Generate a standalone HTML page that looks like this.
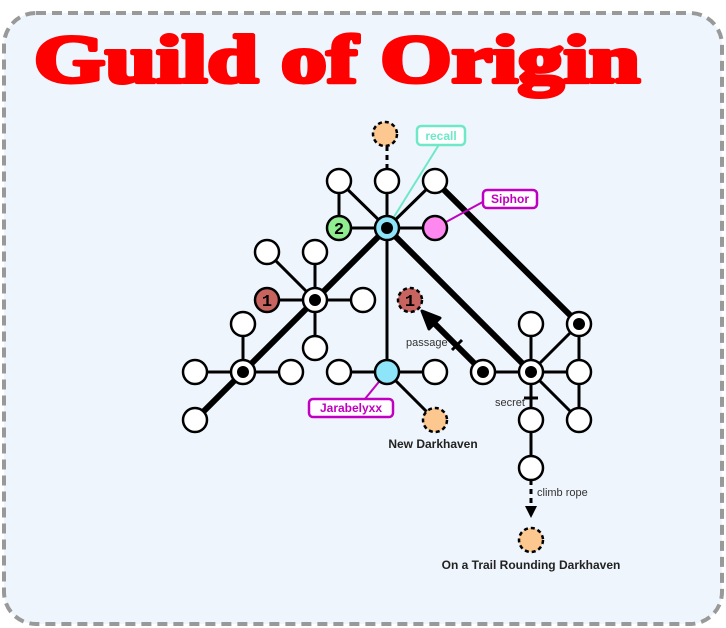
<!DOCTYPE html>
<html><head><style>html,body{margin:0;padding:0;background:#fff}svg{display:block}</style></head>
<body>
<svg width="726" height="628" xmlns="http://www.w3.org/2000/svg" font-family="Liberation Sans, sans-serif">
<rect x="4" y="13" width="718" height="611" rx="32" fill="#eef5fc" stroke="#999" stroke-width="4" stroke-dasharray="10,6"/>
<text x="34" y="82" font-family="Liberation Serif, serif" font-weight="bold" font-size="68" fill="#f00" stroke="#f00" stroke-width="4" stroke-linejoin="round" textLength="606" lengthAdjust="spacingAndGlyphs">Guild of Origin</text>
<g stroke="#000" stroke-width="3" fill="none">
<line x1="387" y1="146" x2="387" y2="181" stroke-dasharray="5,4"/>
<line x1="387" y1="181" x2="387" y2="372"/>
<line x1="339" y1="181" x2="339" y2="228"/>
<line x1="339" y1="181" x2="387" y2="228"/>
<line x1="435" y1="181" x2="387" y2="228"/>
<line x1="339" y1="228" x2="435" y2="228"/>
<line x1="267" y1="252" x2="315" y2="300"/>
<line x1="315" y1="252" x2="315" y2="348"/>
<line x1="267" y1="300" x2="363" y2="300"/>
<line x1="243" y1="324" x2="243" y2="372"/>
<line x1="195" y1="372" x2="291" y2="372"/>
<line x1="339" y1="372" x2="435" y2="372"/>
<line x1="387" y1="372" x2="435" y2="420"/>
<line x1="483" y1="372" x2="579" y2="372"/>
<line x1="531" y1="324" x2="531" y2="468"/>
<line x1="531" y1="372" x2="579" y2="324"/>
<line x1="531" y1="372" x2="579" y2="420"/>
<line x1="579" y1="324" x2="579" y2="420"/>
<line x1="531" y1="480" x2="531" y2="508" stroke-dasharray="5,4"/>
<line x1="452" y1="350" x2="462" y2="340"/>
<line x1="524" y1="398" x2="538" y2="398"/>
</g>
<polygon points="531,518 525,506 537,506" fill="#000"/>
<g stroke="#000" stroke-width="6" stroke-linecap="round">
<line x1="195" y1="420" x2="387" y2="228"/>
<line x1="387" y1="228" x2="531" y2="372"/>
<line x1="435" y1="181" x2="579" y2="324"/>
<line x1="483" y1="372" x2="434" y2="323"/>
</g>
<polygon points="422,311 440,318 429,329" fill="#000" stroke="#000" stroke-width="3" stroke-linejoin="round"/>
<line x1="387" y1="228" x2="440" y2="143" stroke="#6fe8c8" stroke-width="2"/>
<line x1="435" y1="228" x2="490" y2="198" stroke="#c000c0" stroke-width="2"/>
<line x1="387" y1="372" x2="360" y2="405" stroke="#c000c0" stroke-width="2"/>
<g stroke="#000" stroke-width="2.5" fill="#fff">
<circle cx="339" cy="181" r="12"/><circle cx="387" cy="181" r="12"/><circle cx="435" cy="181" r="12"/>
<circle cx="339" cy="228" r="12" fill="#90ee90"/><circle cx="387" cy="228" r="12" fill="#8ee4f8"/><circle cx="435" cy="228" r="12" fill="#ff88f0"/>
<circle cx="267" cy="252" r="12"/><circle cx="315" cy="252" r="12"/><circle cx="267" cy="300" r="12" fill="#c86460"/><circle cx="315" cy="300" r="12"/><circle cx="363" cy="300" r="12"/><circle cx="315" cy="348" r="12"/>
<circle cx="243" cy="324" r="12"/><circle cx="195" cy="372" r="12"/><circle cx="243" cy="372" r="12"/><circle cx="291" cy="372" r="12"/><circle cx="195" cy="420" r="12"/>
<circle cx="339" cy="372" r="12"/><circle cx="387" cy="372" r="12" fill="#8ee4f8"/><circle cx="435" cy="372" r="12"/>
<circle cx="483" cy="372" r="12"/><circle cx="531" cy="372" r="12"/><circle cx="531" cy="324" r="12"/><circle cx="579" cy="324" r="12"/><circle cx="579" cy="372" r="12"/><circle cx="579" cy="420" r="12"/><circle cx="531" cy="420" r="12"/><circle cx="531" cy="468" r="12"/>
</g>
<g stroke="#000" stroke-width="2.5" stroke-dasharray="4,3">
<circle cx="385" cy="134" r="12" fill="#fcc890"/>
<circle cx="410" cy="300" r="12" fill="#c86460"/>
<circle cx="435" cy="420" r="12" fill="#fcc890"/>
<circle cx="531" cy="540" r="12" fill="#fcc890"/>
</g>
<g fill="#000"><circle cx="387" cy="228" r="6"/><circle cx="315" cy="300" r="6"/><circle cx="243" cy="372" r="6"/><circle cx="483" cy="372" r="6"/><circle cx="531" cy="372" r="6"/><circle cx="579" cy="324" r="6"/></g>
<g font-family="Liberation Mono, monospace" font-weight="bold" font-size="17" text-anchor="middle" fill="#000">
<text x="339" y="234">2</text><text x="267" y="306">1</text><text x="410" y="306">1</text></g>
<rect x="417" y="126" width="48" height="19" rx="4" fill="#fff" stroke="#6fe8c8" stroke-width="2.5"/>
<text x="441" y="140" font-size="12" font-weight="bold" fill="#6fe8c8" text-anchor="middle">recall</text>
<rect x="483" y="190" width="54" height="18" rx="4" fill="#fff" stroke="#c000c0" stroke-width="2.5"/>
<text x="510" y="203" font-size="12" font-weight="bold" fill="#c000c0" text-anchor="middle">Siphor</text>
<rect x="309" y="399" width="84" height="18" rx="4" fill="#fff" stroke="#c000c0" stroke-width="2.5"/>
<text x="351" y="412" font-size="12" font-weight="bold" fill="#c000c0" text-anchor="middle">Jarabelyxx</text>
<g font-size="11" fill="#333">
<text x="406" y="346">passage</text>
<text x="495" y="406">secret</text>
<text x="537" y="496">climb rope</text></g>
<g font-size="12" font-weight="bold" fill="#222" text-anchor="middle">
<text x="433" y="448">New Darkhaven</text>
<text x="531" y="569">On a Trail Rounding Darkhaven</text></g>
</svg>
</body></html>
